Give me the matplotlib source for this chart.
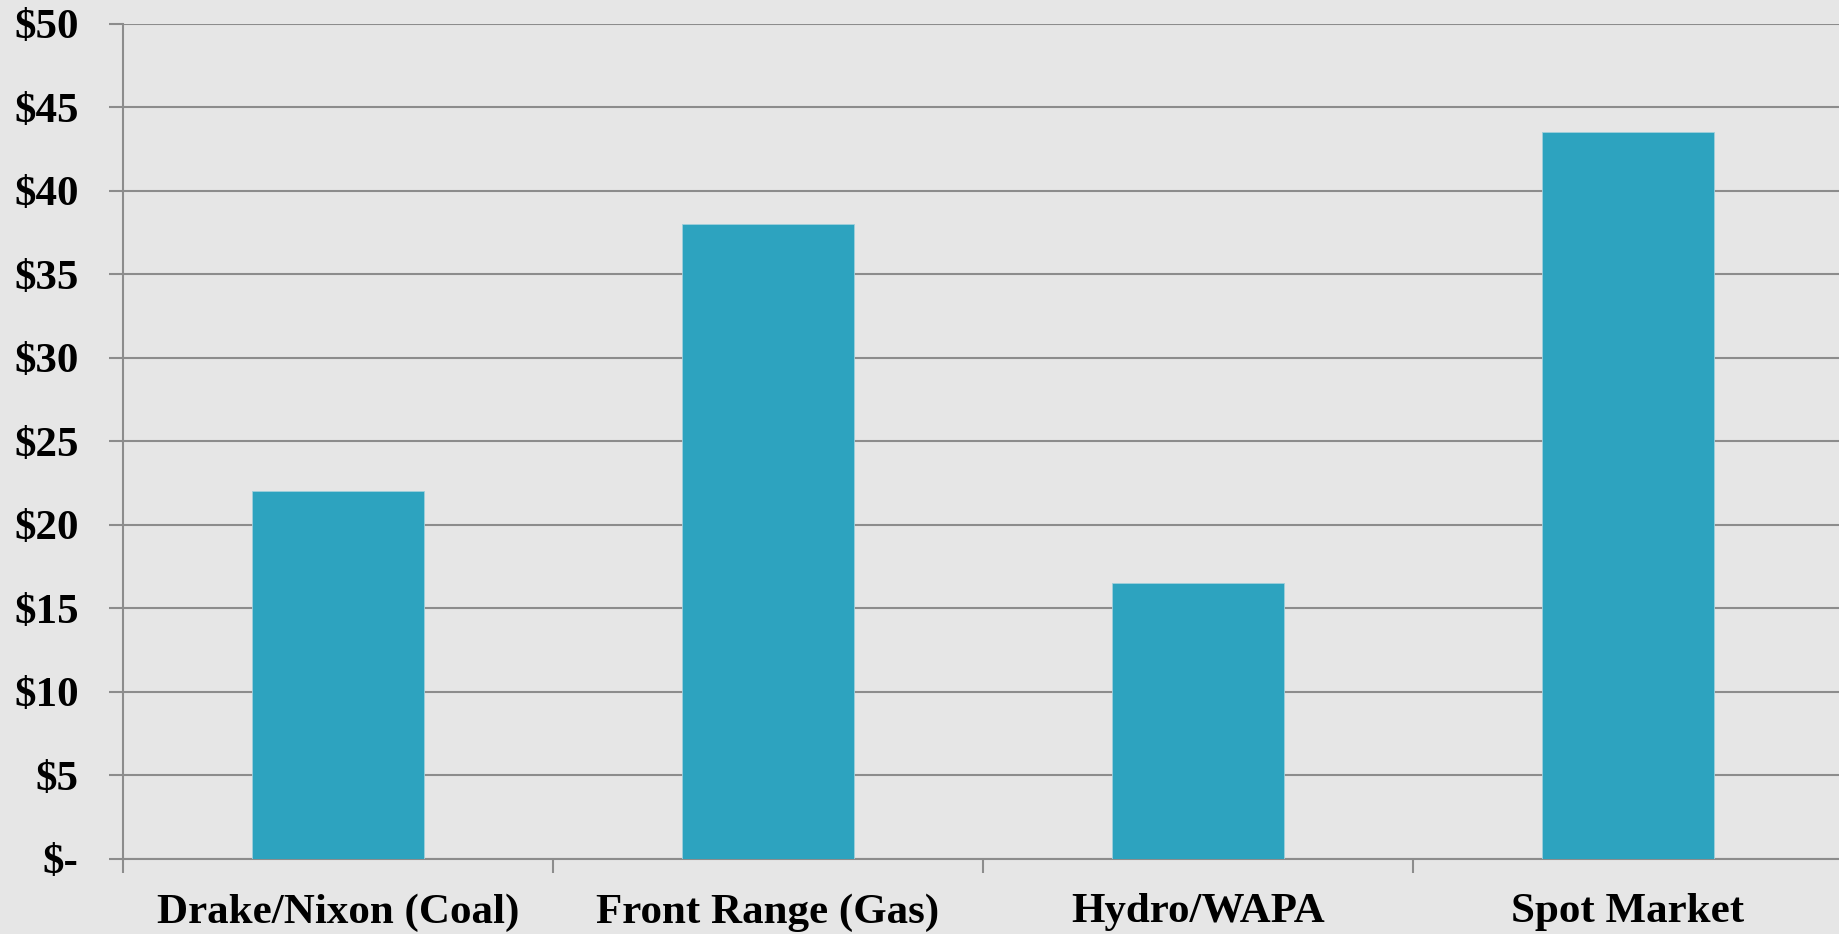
import matplotlib
matplotlib.use("Agg")
import matplotlib.pyplot as plt
import numpy as np

categories = ["Drake/Nixon (Coal)", "Front Range (Gas)", "Hydro/WAPA", "Spot Market"]
values = [22.0, 38.0, 16.5, 43.5]
yticks = [0, 5, 10, 15, 20, 25, 30, 35, 40, 45, 50]
ytick_labels = ["$-", "$5", "$10", "$15", "$20", "$25", "$30", "$35", "$40", "$45", "$50"]

bg = "#E6E6E6"
bar_color = "#2DA3BF"
grid_color = "#8C8C8C"

fig = plt.figure(figsize=(18.39, 9.34), dpi=100, facecolor=bg)
ax = fig.add_axes([0.0669, 0.0808, 1.002 - 0.0669, 0.9748 - 0.0808])
ax.set_facecolor(bg)

x = np.arange(len(categories))
ax.bar(x, values, width=0.4, color=bar_color, edgecolor="#9FCFDB", linewidth=0.6, zorder=3)

ax.set_xlim(-0.5, len(categories) - 0.5)
ax.set_ylim(0, 50)

ax.set_yticks(yticks)
ax.set_yticklabels(ytick_labels)
ax.yaxis.grid(True, color=grid_color, linewidth=1.5, zorder=0)
ax.set_axisbelow(True)

ax.set_xticks(x)
ax.set_xticklabels(categories)
ax.set_xticks(np.arange(-0.5, len(categories) + 0.5, 1.0), minor=True)
ax.tick_params(axis="x", which="major", length=0, pad=25)
ax.tick_params(axis="x", which="minor", length=10, width=1.5, color=grid_color, direction="out")
ax.tick_params(axis="y", which="major", length=10, width=1.5, color=grid_color, pad=22)

for lab in ax.get_xticklabels() + ax.get_yticklabels():
    lab.set_fontfamily("Liberation Serif")
    lab.set_fontweight("bold")
    lab.set_fontsize(31)
    lab.set_color("black")

for s in ["top", "right"]:
    ax.spines[s].set_visible(False)
for s in ["left", "bottom"]:
    ax.spines[s].set_color(grid_color)
    ax.spines[s].set_linewidth(1.5)

fig.text(0.984, -0.012, "2", fontsize=20, color="#595959", ha="center", va="center",
         family="Liberation Serif")

fig.savefig("out.png", dpi=100, facecolor=bg)
